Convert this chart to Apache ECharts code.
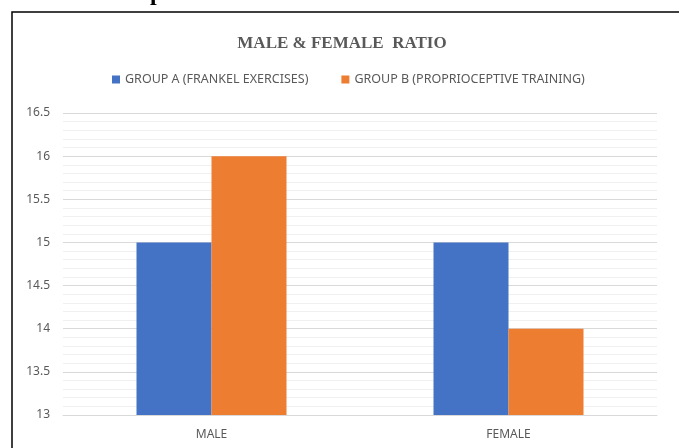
<!DOCTYPE html>
<html>
<head>
<meta charset="utf-8">
<script src="https://cdn.jsdelivr.net/npm/echarts@6/dist/echarts.min.js"></script>
<style>
html, body { margin: 0; padding: 0; background: #fff; }
#chart { width: 679px; height: 448px; }
</style>
</head>
<body>
<div id="chart"></div>
<script>
// chart data
const categories = ['MALE', 'FEMALE']
const groupA = [15, 15]
const groupB = [16, 14]
const seriesNames = ['GROUP A (FRANKEL EXERCISES)', 'GROUP B (PROPRIOCEPTIVE TRAINING)']

const chart = echarts.init(document.getElementById('chart'))

const option = {
	animation: false,
	title: {
		text: 'MALE & FEMALE  RATIO',
		left: 337,
		top: 30,
		textAlign: 'center',
		textStyle: {
			fontFamily: 'Liberation Serif',
			fontWeight: 'bold',
			fontSize: 17,
			color: '#595959',
		},
	},
	legend: {
		top: 68,
		left: 107,
		itemWidth: 8,
		itemHeight: 8,
		itemGap: 33,
		icon: 'rect',
		textStyle: {
			fontFamily: 'Noto Sans',
			fontSize: 12.5,
			color: '#595959',
		},
	},
	grid: {
		left: 63,
		right: 22,
		top: 113,
		bottom: 33,
		containLabel: false,
	},
	xAxis: {
		type: 'category',
		data: categories,
		axisLine: { lineStyle: { color: '#d9d9d9' } },
		axisTick: { show: false },
		axisLabel: {
			margin: 14,
			fontFamily: 'Noto Sans',
			fontSize: 12,
			color: '#595959',
		},
	},
	yAxis: {
		type: 'value',
		min: 13,
		max: 16.5,
		interval: 0.5,
		axisLine: { show: false },
		axisTick: { show: false },
		axisLabel: {
			margin: 13,
			fontFamily: 'Noto Sans',
			fontSize: 12,
			color: '#595959',
		},
		splitLine: { lineStyle: { color: '#d9d9d9' } },
		minorTick: { show: false, splitNumber: 5 },
		minorSplitLine: { show: true, lineStyle: { color: '#f0f0f0' } },
	},
	series: [
		{
			name: seriesNames[0],
			type: 'bar',
			data: groupA,
			barWidth: 75,
			barGap: '0%',
			itemStyle: { color: '#4472C4' },
		},
		{
			name: seriesNames[1],
			type: 'bar',
			data: groupB,
			barWidth: 75,
			barGap: '0%',
			itemStyle: { color: '#ED7D31' },
		},
	],
	graphic: [
		{
			type: 'rect',
			shape: { x: 12, y: 12, width: 700, height: 460 },
			style: { fill: 'none', stroke: '#000', lineWidth: 1.5 },
			silent: true,
		},
		{
			type: 'text',
			left: 150,
			top: -18,
			style: {
				text: 'p',
				font: 'bold 24px "Liberation Serif"',
				fill: '#000',
			},
			silent: true,
		},
	],
}

chart.setOption(option)
</script>
</body>
</html>
